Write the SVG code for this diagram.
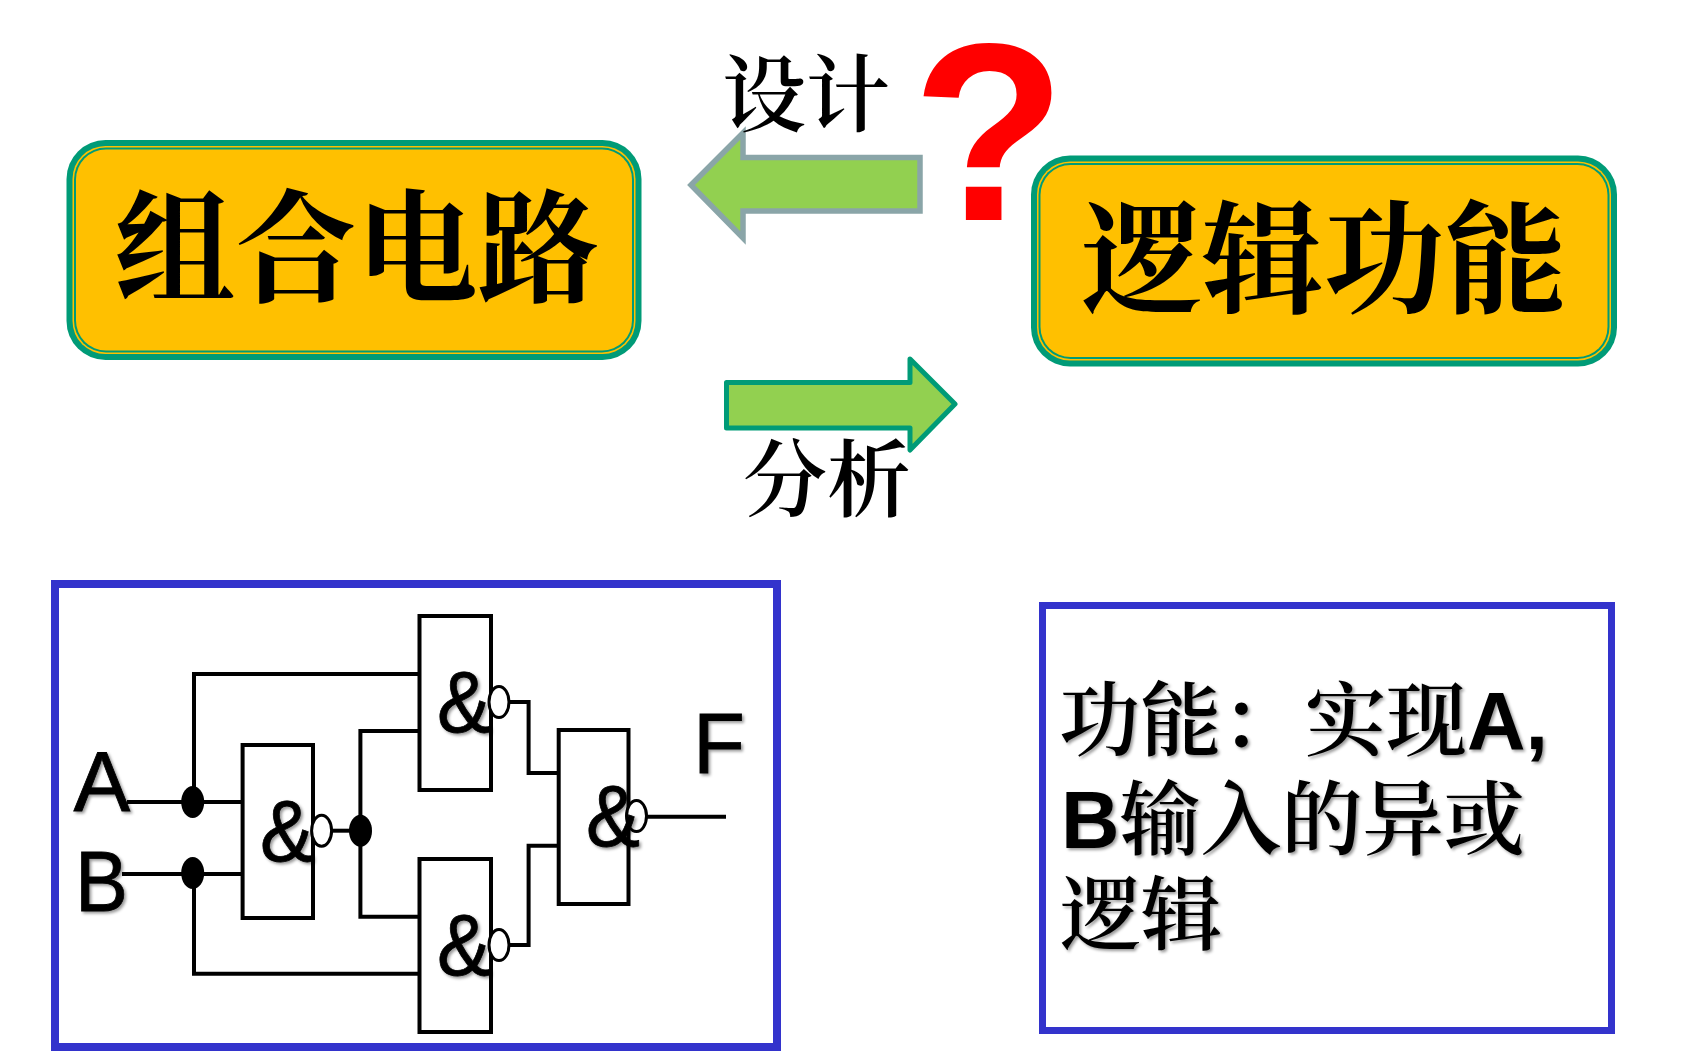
<svg xmlns="http://www.w3.org/2000/svg" width="1682" height="1064" viewBox="0 0 1682 1064">
<style>
.cjk{font-family:"Noto Serif CJK SC","Noto Sans CJK SC",sans-serif;fill:#000}
.t{font-size:122px;font-weight:700}
.m{font-size:84px;font-weight:600}
.d{font-size:81px;font-weight:600}
.lat{font-family:"Liberation Sans",Arial,sans-serif;font-weight:700}
.lg{font-family:"Liberation Sans",Arial,sans-serif;font-size:85px;fill:#000;stroke:#000;stroke-width:.8}
.amp{font-size:88px}
.o{fill:#009B77}.y{fill:#FFC000}
.blue{fill:#fff;stroke:#3333CC;stroke-width:8}
.gate{fill:#fff;stroke:#000;stroke-width:4}
.w{fill:none;stroke:#000;stroke-width:4}
.bub{fill:#fff;stroke:#000;stroke-width:3}
</style>
<defs>
<filter id="sh" x="-10%" y="-10%" width="125%" height="125%"><feDropShadow dx="2" dy="2" stdDeviation="1.5" flood-color="#000" flood-opacity=".4"/></filter>
</defs>
<rect width="1682" height="1064" fill="#fff"/>

<g id="node-combinational">
<rect x="66.5" y="140" width="575" height="220" rx="39" class="o"/>
<rect x="72.5" y="146" width="563" height="208" rx="33" class="y"/>
<rect x="74" y="147.500" width="560" height="205" rx="32" class="o"/>
<rect x="76" y="149.500" width="556" height="201" rx="30" class="y"/>
<text x="114" y="292" class="cjk t" textLength="485" lengthAdjust="spacingAndGlyphs">组合电路</text>
</g>
<g id="node-logic">
<rect x="1031" y="155.500" width="586" height="211" rx="39" class="o"/>
<rect x="1037" y="161.500" width="574" height="199" rx="33" class="y"/>
<rect x="1038.500" y="163" width="571" height="196" rx="32" class="o"/>
<rect x="1040.500" y="165" width="567" height="192" rx="30" class="y"/>
<text x="1081" y="303" class="cjk t" textLength="485" lengthAdjust="spacingAndGlyphs">逻辑功能</text>
</g>

<g id="connectors">
<path id="arrow-design" d="M691,185 L743,133 V157.500 H920 V211 H743 V238 Z" fill="#92D050" stroke="#8AA5A8" stroke-width="5.500"/>
<path id="arrow-analysis" d="M726.500,382.500 H910 V359 L955,404 L910,450 V428 H726.500 Z" fill="#92D050" stroke="#009B77" stroke-width="5" stroke-linejoin="round"/>
</g>
<g id="label-design"><text x="722" y="125" class="cjk m">设计</text></g>
<g id="label-analysis"><text x="743" y="510" class="cjk m">分析</text></g>
<g id="question"><text x="989" y="220" text-anchor="middle" font-family="Liberation Sans, Arial, sans-serif" font-weight="700" font-size="252" fill="#FF0000">?</text></g>

<g id="node-circuit">
<rect x="55" y="584" width="722" height="463" class="blue"/>
<g id="circuit-wires">
<path class="w" d="M127,802 H242.600"/>
<path class="w" d="M122,874 H242.600"/>
<path class="w" d="M194,802 V674 H419.500"/>
<path class="w" d="M194,873 V973.700 H419.500"/>
<path class="w" d="M332,830.700 H360.400"/>
<path class="w" d="M360.400,830.700 V731 H419.500"/>
<path class="w" d="M360.400,830.700 V916.700 H419.500"/>
<path class="w" d="M510,702 H528.600 V773 H558.700"/>
<path class="w" d="M510,945 H528.600 V845.700 H558.700"/>
<path class="w" d="M647,816.700 H726"/>
<ellipse cx="192.700" cy="802" rx="11.500" ry="16" fill="#000"/>
<ellipse cx="192.700" cy="873" rx="11.500" ry="16" fill="#000"/>
<ellipse cx="360.500" cy="830.700" rx="11.500" ry="16" fill="#000"/>
</g>
<g filter="url(#sh)">
<text x="73.500" y="811" class="lg">A</text>
<text x="75" y="911" class="lg" textLength="53" lengthAdjust="spacingAndGlyphs">B</text>
<text x="693" y="773" class="lg">F</text>
</g>
<g id="gate-1"><rect x="242.600" y="745" width="70.400" height="173" class="gate"/><ellipse cx="321.600" cy="830.700" rx="10" ry="15.500" class="bub"/><text x="260" y="861" class="lg amp" filter="url(#sh)" textLength="54" lengthAdjust="spacingAndGlyphs">&amp;</text></g>
<g id="gate-2"><rect x="419.500" y="616" width="71.500" height="174" class="gate"/><ellipse cx="499" cy="702" rx="10" ry="15.500" class="bub"/><text x="437" y="732" class="lg amp" filter="url(#sh)" textLength="54" lengthAdjust="spacingAndGlyphs">&amp;</text></g>
<g id="gate-3"><rect x="419.500" y="859" width="71.500" height="173" class="gate"/><ellipse cx="499" cy="945" rx="10" ry="15.500" class="bub"/><text x="437" y="975" class="lg amp" filter="url(#sh)" textLength="54" lengthAdjust="spacingAndGlyphs">&amp;</text></g>
<g id="gate-4"><rect x="558.700" y="730" width="69.800" height="174" class="gate"/><ellipse cx="636.500" cy="816" rx="10" ry="15.500" class="bub"/><text x="586" y="846" class="lg amp" filter="url(#sh)" textLength="54" lengthAdjust="spacingAndGlyphs">&amp;</text></g>
</g>

<g id="node-function">
<rect x="1042.500" y="605.500" width="569" height="425" class="blue" style="stroke-width:7"/>
<g filter="url(#sh)">
<text x="1059" y="749" class="cjk d">功能：<tspan x="1305">实现</tspan><tspan class="lat">A,</tspan></text>
<text x="1061" y="848" class="cjk d"><tspan class="lat">B</tspan>输入的异或</text>
<text x="1060" y="943" class="cjk d">逻辑</text>
</g>
</g>
</svg>
